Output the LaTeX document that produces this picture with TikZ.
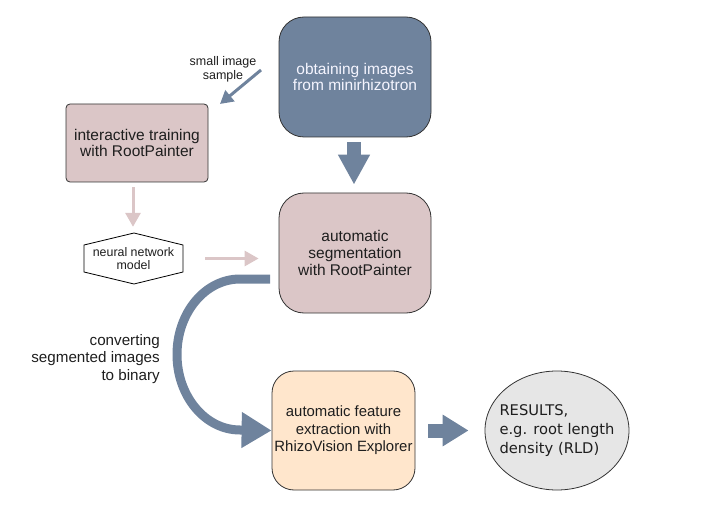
\documentclass[tikz,border=0pt]{standalone}
\usepackage{fontspec}
\setmainfont{Liberation Sans}
\newfontfamily\dvfont{DejaVu Sans}
\usetikzlibrary{arrows.meta,shapes.geometric,calc}
\definecolor{bluegrey}{HTML}{6F839D}
\definecolor{pinkbox}{HTML}{DBC6C7}
\definecolor{orangebox}{HTML}{FFE6CC}
\definecolor{greybox}{HTML}{E6E6E6}
\definecolor{txt}{HTML}{1E1E1E}
\begin{document}
\begin{tikzpicture}[x=1pt,y=-1pt,
  box/.style={draw=black!80, line width=0.8pt, rectangle, inner sep=0pt, align=center, text=txt,
    font=\fontsize{15.5}{16.7}\selectfont},
  bigarrow/.style={draw=bluegrey, line width=14pt, -{Triangle[length=30pt,width=30pt]}},
  pinkarrow/.style={draw=pinkbox, line width=3pt, -{Triangle[length=14pt,width=15pt]}},
  lbl/.style={text=txt, inner sep=0pt}
]
\useasboundingbox (0,0) rectangle (705,508);

% nodes
\node[box, fill=bluegrey, text=white!96!blue, rounded corners=25pt, minimum width=152pt, minimum height=120pt]
  (top) at (355,77) {obtaining images\\from minirhizotron};
\node[box, fill=pinkbox, rounded corners=4pt, minimum width=142pt, minimum height=78pt]
  (itr) at (137,143) {interactive training\\with RootPainter};
\node[box, fill=pinkbox, rounded corners=25pt, minimum width=152pt, minimum height=120pt]
  (seg) at (355,253) {automatic\\segmentation\\with RootPainter};
\node[box, fill=orangebox, rounded corners=22pt, minimum width=143pt, minimum height=119pt,
  font=\fontsize{14.9}{17.5}\selectfont]
  (fea) at (343.5,430.5) {automatic feature\\extraction with\\RhizoVision Explorer};
\node[ellipse, draw=black!80, line width=0.8pt, fill=greybox, minimum width=144pt, minimum height=119pt,
  inner sep=0pt] (res) at (557,430.5) {};
\node[lbl, align=left, font=\dvfont\fontsize{14.7}{19}\selectfont] (restxt) at (res.center) {RESULTS,\\e.g. root length\\density (RLD)};

% hexagon
\draw[black, line width=0.8pt, fill=white] (134,233) -- (183,245) -- (183,272) -- (134,284) -- (84,272) -- (84,245) -- cycle;
\node[lbl, align=center, minimum width=99pt, minimum height=51pt, font=\fontsize{12.4}{13.3}\selectfont]
  (nn) at (133.5,258.5) {neural network\\model};

% labels
\node[lbl, align=center, font=\fontsize{12.5}{14.3}\selectfont] (sis) at (223,69) {small image\\sample};
\node[lbl, align=right, anchor=east, font=\fontsize{15.2}{17.3}\selectfont] (conv) at (160,359) {converting\\segmented images\\to binary};

% connectors
\draw[bigarrow, shorten <=5pt, shorten >=8pt] ([xshift=-1pt]top.south) -- ([xshift=-1pt]top.south |- seg.north);
\draw[draw=bluegrey, line width=14pt, -{Triangle[length=26pt,width=30pt]}, shorten <=13pt, shorten >=16pt]
  (fea.east |- res.west) -- (res.west);

\coordinate (s1) at (261,70);
\coordinate (s2) at (220,104);
\draw[draw=bluegrey, line width=3pt, -{Triangle[length=13pt,width=14pt]}] (s1) -- (s2);

\draw[pinkarrow, shorten <=5pt, shorten >=6pt] ([xshift=-4pt]itr.south) -- ([xshift=-4pt]itr.south |- nn.north);
\draw[pinkarrow, shorten <=22pt, shorten >=20pt] (nn.east) -- (nn.east -| seg.west);

\coordinate (c1) at (270,279);
\coordinate (c2) at (240,279);
\draw[draw=bluegrey, line width=9pt, -{Triangle[length=30pt,width=34pt]}]
  (c1) -- (c2) arc[start angle=90, end angle=270, x radius=63pt, y radius=75.5pt] -- (fea.west);
\end{tikzpicture}
\end{document}
